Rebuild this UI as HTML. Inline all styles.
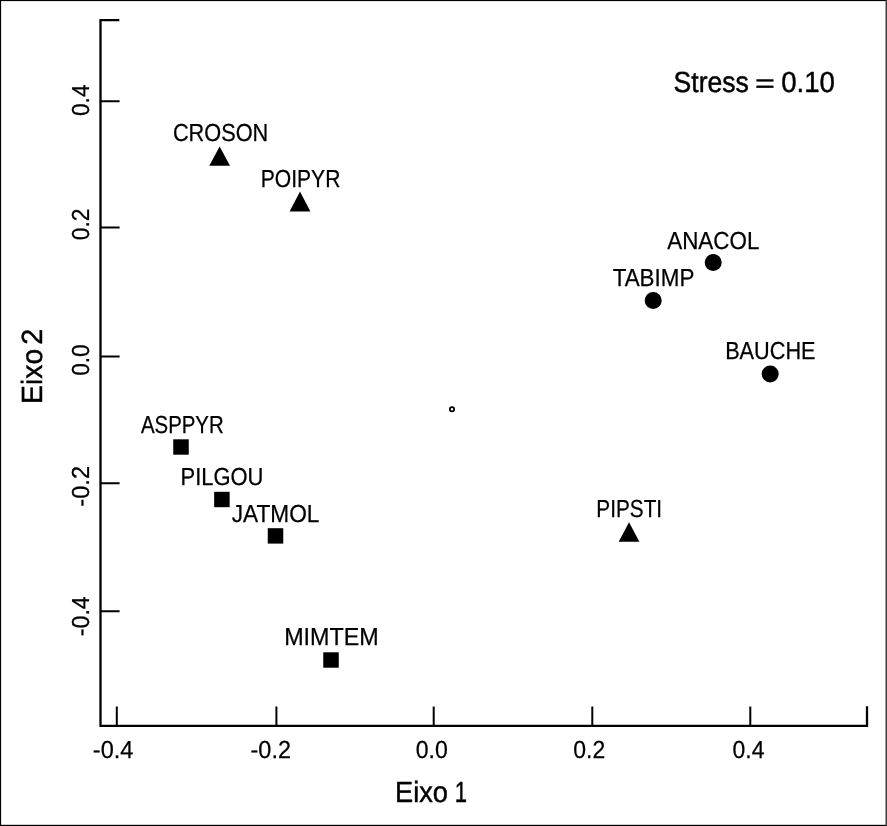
<!DOCTYPE html>
<html lang="pt">
<head>
<meta charset="utf-8">
<title>NMDS - Eixo 1 x Eixo 2</title>
<style>
html,body{margin:0;padding:0;background:#fff;}
body{width:887px;height:826px;overflow:hidden;}
svg{display:block;}
text{white-space:pre;}
</style>
</head>
<body>
<svg width="887" height="826" viewBox="0 0 887 826">
<rect x="0" y="0" width="887" height="826" fill="#fff"/>
<rect x="0" y="0" width="887" height="1.1" fill="#000"/>
<rect x="0" y="0" width="1.1" height="826" fill="#000"/>
<rect x="0" y="824.8" width="887" height="1.2" fill="#000"/>
<rect x="885.5" y="0" width="1.5" height="826" fill="#3c3c3c"/>
<g stroke="#000" fill="none" stroke-linecap="butt">
<path d="M119.3 20.1H100.5V725.8H867V706.3" stroke-width="2.3" stroke-linejoin="miter"/>
<path d="M116.8 725.8V706.5M276.4 725.8V706.5M433.7 725.8V706.5M592.3 725.8V706.5M750.3 725.8V706.5M100.5 101.2H119.6M100.5 227.4H119.6M100.5 356.5H119.6M100.5 483.3H119.6M100.5 611.3H119.6" stroke-width="2"/>
</g>
<g fill="#000">
<polygon points="219.65,146.4 230,165.85 209.3,165.85"/>
<polygon points="300,191.6 310.4,211.55 289.6,211.55"/>
<polygon points="629.05,522.3 639.4,541.85 618.7,541.85"/>
<circle cx="713.2" cy="262.5" r="8.5"/>
<circle cx="653.2" cy="300.4" r="8.5"/>
<circle cx="770.2" cy="373.9" r="8.5"/>
<rect x="173.25" y="439.3" width="15.5" height="15.4"/>
<rect x="214.15" y="491.8" width="15.5" height="15.4"/>
<rect x="267.75" y="528.2" width="15.5" height="15.4"/>
<rect x="323.25" y="652.3" width="15.5" height="15.4"/>
</g>
<circle cx="452" cy="409.3" r="2.15" fill="#fff" stroke="#000" stroke-width="1.8"/>
<g font-family="'Liberation Sans', Arial, sans-serif" fill="#000" stroke="#000" stroke-width="0.25" stroke-linejoin="round" text-rendering="geometricPrecision">
<text x="172.92" y="140.8" font-size="24.6" textLength="95.38" lengthAdjust="spacingAndGlyphs">CROSON</text>
<text x="260.81" y="186.6" font-size="24.6" textLength="79.58" lengthAdjust="spacingAndGlyphs">POIPYR</text>
<text x="667.21" y="248.7" font-size="24.6" textLength="92.16" lengthAdjust="spacingAndGlyphs">ANACOL</text>
<text x="612.67" y="286.4" font-size="24.6" textLength="81.74" lengthAdjust="spacingAndGlyphs">TABIMP</text>
<text x="725.16" y="359.3" font-size="24.6" textLength="90.4" lengthAdjust="spacingAndGlyphs">BAUCHE</text>
<text x="140.92" y="432.6" font-size="24.6" textLength="82.81" lengthAdjust="spacingAndGlyphs">ASPPYR</text>
<text x="180.54" y="484.9" font-size="24.6" textLength="82.86" lengthAdjust="spacingAndGlyphs">PILGOU</text>
<text x="231.78" y="522.2" font-size="24.6" textLength="87.66" lengthAdjust="spacingAndGlyphs">JATMOL</text>
<text x="284.13" y="645.4" font-size="24.6" textLength="94.53" lengthAdjust="spacingAndGlyphs">MIMTEM</text>
<text x="596.34" y="517" font-size="24.6" textLength="65.76" lengthAdjust="spacingAndGlyphs">PIPSTI</text>
<text x="92.85" y="757.6" font-size="24.6" textLength="40.56" lengthAdjust="spacingAndGlyphs">-0.4</text>
<text x="250.55" y="757.6" font-size="24.6" textLength="40.43" lengthAdjust="spacingAndGlyphs">-0.2</text>
<text x="415.79" y="757.6" font-size="24.6" textLength="32.08" lengthAdjust="spacingAndGlyphs">0.0</text>
<text x="573.29" y="757.6" font-size="24.6" textLength="32.01" lengthAdjust="spacingAndGlyphs">0.2</text>
<text x="732.49" y="757.6" font-size="24.6" textLength="31.94" lengthAdjust="spacingAndGlyphs">0.4</text>
<text y="92.3" font-size="29.2" stroke-width="0.45"><tspan x="673.58" textLength="75.19" lengthAdjust="spacingAndGlyphs">Stress</tspan> <tspan x="755.11" dy="-0.2" font-size="25.6" stroke="#000" stroke-width="0.35" textLength="19.88" lengthAdjust="spacingAndGlyphs">=</tspan> <tspan x="781.16" dy="0.2" textLength="53.74" lengthAdjust="spacingAndGlyphs">0.10</tspan></text>
<text y="802.2" font-size="29.2" stroke-width="0.45"><tspan x="395.01" textLength="52.96" lengthAdjust="spacingAndGlyphs">Eixo</tspan> <tspan x="454.82" textLength="12.27" lengthAdjust="spacingAndGlyphs">1</tspan></text>
<text transform="translate(89 116) rotate(-90)" x="0" y="0" font-size="24.6" textLength="31.52" lengthAdjust="spacingAndGlyphs">0.4</text>
<text transform="translate(89 240.3) rotate(-90)" x="0" y="0" font-size="24.6" textLength="31.8" lengthAdjust="spacingAndGlyphs">0.2</text>
<text transform="translate(89 375.8) rotate(-90)" x="0" y="0" font-size="24.6" textLength="31.55" lengthAdjust="spacingAndGlyphs">0.0</text>
<text transform="translate(89 506.66) rotate(-90)" x="0" y="0" font-size="24.6" textLength="40.75" lengthAdjust="spacingAndGlyphs">-0.2</text>
<text transform="translate(89 636.24) rotate(-90)" x="0" y="0" font-size="24.6" textLength="40.04" lengthAdjust="spacingAndGlyphs">-0.4</text>
<text transform="translate(41.6 403.88) rotate(-90)" y="0" font-size="29.2" stroke-width="0.45"><tspan x="0" textLength="54.99" lengthAdjust="spacingAndGlyphs">Eixo</tspan> <tspan x="59.12" textLength="15.99" lengthAdjust="spacingAndGlyphs">2</tspan></text>
</g>
</svg>
</body>
</html>
